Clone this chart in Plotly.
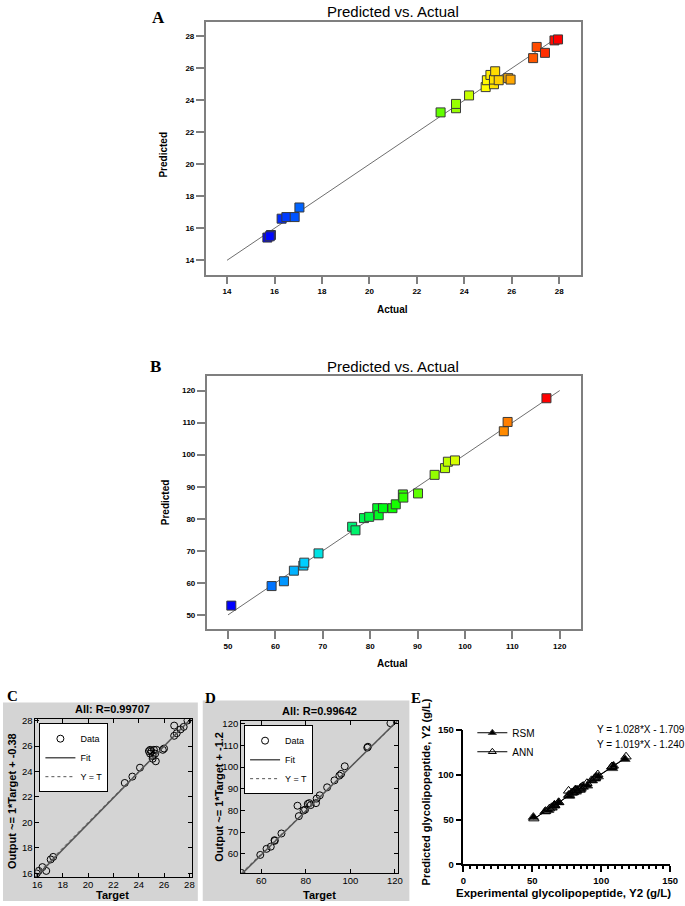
"""Predicted vs actual panels (RSM / ANN) recreated with plotly."""
import plotly.graph_objects as go

W, H = 685, 906
SANS = "Liberation Sans, Arial"
SERIF = "Liberation Serif, Times New Roman"

# panel A: Y1 actual vs RSM predicted
a_actual = [15.7, 15.85, 15.8, 16.3, 16.5, 16.85, 17.05, 23.0, 23.65, 23.65, 24.2, 24.9,
            24.95, 25.1, 25.25, 25.25, 25.3, 25.45, 25.85, 25.95, 26.9, 27.05, 27.4, 27.8, 27.95]
a_pred = [15.42, 15.58, 15.5, 16.6, 16.7, 16.7, 17.3, 23.24, 23.5, 23.77, 24.3, 24.82,
          25.25, 25.58, 25.0, 25.29, 25.81, 25.25, 25.38, 25.29, 26.63, 27.33, 26.96, 27.74, 27.8]

# panel B: Y2 actual vs RSM predicted
b_actual = [50.7, 59.2, 61.8, 63.9, 65.9, 66.1, 69.1, 76.2, 76.9, 78.7, 79.8, 81.5, 81.8,
            82.7, 84.7, 85.4, 86.9, 87.0, 90.1, 93.6, 95.8, 96.4, 97.9, 108.2, 109.0, 117.2]
b_pred = [52.9, 59.0, 60.5, 63.8, 65.4, 66.3, 69.2, 77.5, 76.4, 80.2, 80.6, 83.3, 81.1,
          83.3, 83.3, 84.5, 87.6, 86.6, 87.9, 93.7, 95.8, 97.8, 98.2, 107.3, 110.2, 117.6]

# panel C: Y1 target vs ANN output
c_target = [15.95, 16.1, 16.4, 16.7, 17.05, 17.25, 22.9, 23.5, 24.1, 24.8, 24.9, 24.9, 25.0,
            25.1, 25.1, 25.2, 25.3, 25.35, 25.4, 25.9, 26.0, 26.8, 26.8, 27.0, 27.3, 27.55, 27.85]
c_output = [16.0, 16.2, 16.5, 16.2, 17.1, 17.3, 23.1, 23.6, 24.3, 25.6, 25.4, 25.7, 25.6,
            25.2, 25.0, 25.7, 25.4, 24.8, 25.7, 25.7, 25.8, 27.6, 26.8, 27.0, 27.3, 27.5, 28.0]
c_fit = (1.014, -0.38)

# panel D: Y2 target vs ANN output
d_target = [51.1, 59.6, 62.4, 64.3, 66.0, 66.1, 69.1, 76.3, 76.9, 79.0, 79.7, 80.9, 81.6,
            82.2, 84.6, 84.9, 86.3, 89.6, 92.9, 95.1, 95.9, 97.5, 107.6, 107.9, 118.0]
d_output = [51.2, 59.5, 62.3, 63.3, 66.3, 66.0, 69.4, 82.2, 77.4, 80.0, 80.4, 83.0, 83.4,
            82.5, 83.4, 85.5, 87.0, 90.7, 93.9, 96.1, 96.9, 100.4, 109.0, 109.4, 120.3]
d_fit = (1.012, -1.2)

# panel E: regression equations
rsm_eq = (1.028, -1.709)
ann_eq = (1.019, -1.240)

rainbow = [[0, "#0000ff"], [0.25, "#00e0ff"], [0.5, "#00ff00"], [0.75, "#ffff00"], [1, "#ff0000"]]


def px(x):
    return x / W


def py(y):
    return 1 - y / H


fig = go.Figure()

# A and B: design-expert style
for i, (xs, ys, lo, hi) in enumerate([(a_actual, a_pred, 14, 28), (b_actual, b_pred, 50, 120)]):
    ax = "" if i == 0 else "2"
    fig.add_trace(go.Scatter(x=[lo, hi], y=[lo, hi], mode="lines", xaxis="x" + ax, yaxis="y" + ax,
                             line=dict(color="#6e6e6e", width=1), showlegend=False))
    fig.add_trace(go.Scatter(x=xs, y=ys, mode="markers", xaxis="x" + ax, yaxis="y" + ax,
                             marker=dict(symbol="square", size=9, color=xs, colorscale=rainbow,
                                         line=dict(color="#3a3a3a", width=1)),
                             showlegend=False))

# C and D: matlab plotregression style
for ax, xs, ys, fit, lo, hi, leg in [("3", c_target, c_output, c_fit, 15.85, 28.2, "legend"),
                                      ("4", d_target, d_output, d_fit, 51.0, 121.2, "legend2")]:
    fig.add_trace(go.Scatter(x=xs, y=ys, mode="markers", name="Data", xaxis="x" + ax, yaxis="y" + ax,
                             marker=dict(symbol="circle-open", size=7, color="black", line=dict(width=1)),
                             legend=leg))
    fig.add_trace(go.Scatter(x=[lo, hi], y=[fit[0] * lo + fit[1], fit[0] * hi + fit[1]], mode="lines",
                             name="Fit", xaxis="x" + ax, yaxis="y" + ax,
                             line=dict(color="#555555", width=1.5), legend=leg))
    fig.add_trace(go.Scatter(x=[lo, hi], y=[lo, hi], mode="lines", name="Y = T", xaxis="x" + ax,
                             yaxis="y" + ax, line=dict(color="#555555", width=1, dash="dot"), legend=leg))

# E: prism style
for name, xs, ys, eq, sym in [("RSM", b_actual, b_pred, rsm_eq, "triangle-up"),
                              ("ANN", d_target, d_output, ann_eq, "triangle-up-open")]:
    lo, hi = min(xs), max(xs)
    fig.add_trace(go.Scatter(x=[lo, hi], y=[eq[0] * lo + eq[1], eq[0] * hi + eq[1]], mode="lines",
                             xaxis="x5", yaxis="y5", line=dict(color="black", width=1), showlegend=False))
    fig.add_trace(go.Scatter(x=xs, y=ys, mode="markers", xaxis="x5", yaxis="y5", showlegend=False,
                             marker=dict(symbol=sym, size=9, color="black", line=dict(width=1))))
    fig.add_trace(go.Scatter(x=[None], y=[None], mode="lines+markers", name=name, xaxis="x5", yaxis="y5",
                             line=dict(color="black", width=1), legend="legend3",
                             marker=dict(symbol=sym, size=7, color="black", line=dict(width=1))))

de_axis = dict(showline=True, mirror=True, linecolor="#7f7f7f", linewidth=1.5, ticks="outside",
               ticklen=8, tickcolor="#7f7f7f", tickwidth=1.5, showgrid=False, zeroline=False,
               tickfont=dict(family=SANS, size=8, color="black", weight="bold"))
ml_axis = dict(showline=True, mirror="ticks", linecolor="black", linewidth=1, ticks="inside",
               ticklen=4, tickcolor="black", showgrid=False, zeroline=False,
               tickfont=dict(family=SANS, size=9.5, color="black"))
gp_axis = dict(showline=True, linecolor="black", linewidth=1.5, ticks="outside", ticklen=6,
               tickwidth=1.5, tickcolor="black", showgrid=False, zeroline=False, range=[0, 150],
               tickvals=[0, 50, 100, 150], tickfont=dict(family=SANS, size=9.5, color="black", weight="bold"))

fig.update_layout(
    width=W, height=H, margin=dict(l=0, r=0, t=0, b=0),
    paper_bgcolor="white", plot_bgcolor="white",
    xaxis=dict(de_axis, domain=[px(206), px(587)], range=[13.1, 28.9], dtick=2, anchor="y"),
    yaxis=dict(de_axis, domain=[py(272), py(16)], range=[13.1, 28.9], dtick=2, anchor="x"),
    xaxis2=dict(de_axis, domain=[px(207), px(587)], range=[45.5, 124.4], dtick=10, anchor="y2"),
    yaxis2=dict(de_axis, domain=[py(631), py(375)], range=[45.5, 124.4], dtick=10, anchor="x2"),
    xaxis3=dict(ml_axis, domain=[px(33), px(192)], range=[15.85, 28.2], dtick=2, anchor="y3",
                ticklabelstandoff=-2),
    yaxis3=dict(ml_axis, domain=[py(882), py(722)], range=[15.7, 28.1], dtick=2, anchor="x3"),
    xaxis4=dict(ml_axis, domain=[px(242), px(401)], range=[51.0, 121.2], dtick=20, anchor="y4",
                ticklabelstandoff=-2),
    yaxis4=dict(ml_axis, domain=[py(878), py(724)], range=[51.0, 121.2], dtick=10, anchor="x4"),
    xaxis5=dict(gp_axis, domain=[px(468), px(678)], anchor="y5",
                minor=dict(dtick=5, ticks="outside", ticklen=3, tickcolor="black")),
    yaxis5=dict(gp_axis, domain=[py(869), py(733)], anchor="x5"),
    legend=dict(x=px(37), y=py(726), xanchor="left", yanchor="top", bgcolor="white",
                bordercolor="black", borderwidth=1, font=dict(family=SANS, size=9, color="black"),
                itemwidth=30, tracegroupgap=0),
    legend2=dict(x=px(245), y=py(728), xanchor="left", yanchor="top", bgcolor="white",
                 bordercolor="black", borderwidth=1, font=dict(family=SANS, size=9, color="black"),
                 itemwidth=30, tracegroupgap=0),
    legend3=dict(x=px(477), y=py(721), xanchor="left", yanchor="top", bgcolor="rgba(0,0,0,0)",
                 font=dict(family=SANS, size=10, color="black"), itemwidth=30, tracegroupgap=0),
)

# matlab figure backgrounds
for x0, x1, y0 in [(0, 198, 705), (203, 413, 703)]:
    fig.add_shape(type="rect", xref="paper", yref="paper", x0=px(x0), x1=px(x1), y0=0, y1=py(y0),
                  fillcolor="#d4d4d4", line=dict(width=0), layer="below")


def note(text, x, y, size, bold=False, family=SANS, angle=0, xanchor="center"):
    fig.add_annotation(text=text, x=px(x), y=py(y), xref="paper", yref="paper", showarrow=False,
                       textangle=angle, xanchor=xanchor, yanchor="middle",
                       font=dict(family=family, size=size, color="black", weight="bold" if bold else "normal"))


# panel letters
note("A", 158, 12, 17, True, SERIF)
note("B", 155, 365, 17, True, SERIF)
note("C", 10, 698, 15, True, SERIF)
note("D", 211, 700, 15, True, SERIF)
note("E", 420, 700, 15, True, SERIF)

# A / B titles
note("Predicted vs. Actual", 396, 6, 15)
note("Predicted vs. Actual", 396, 365, 15)
note("Actual", 396, 307, 10, True)
note("Actual", 396, 666, 10, True)
note("Predicted", 163, 150, 10, True, angle=-90)
note("Predicted", 166, 502, 10, True, angle=-90)

# C / D
note("All: R=0.99707", 111, 712, 11, True)
note("All: R=0.99642", 322, 714, 11, True)
note("Target", 111, 900, 11, True)
note("Target", 322, 900, 11, True)
note("Output ~= 1*Target + -0.38", 9, 805, 11, True, angle=-90)
note("Output ~= 1*Target + -1.2", 220, 800, 11, True, angle=-90)

# E
note("Y = 1.028*X - 1.709", 602, 732, 10, xanchor="left")
note("Y = 1.019*X - 1.240", 602, 748, 10, xanchor="left")
note("Predicted glycolipopeptide, Y2 (g/L)", 430, 796, 11, True, angle=-90)
note("Experimental glycolipopeptide, Y2 (g/L)", 570, 898, 11.5, True)

# the page body has a default margin; drop it so the figure sits at the window origin
fig.write_html("out.html", config={"displayModeBar": False},
               post_script="document.body.style.margin='0';")
